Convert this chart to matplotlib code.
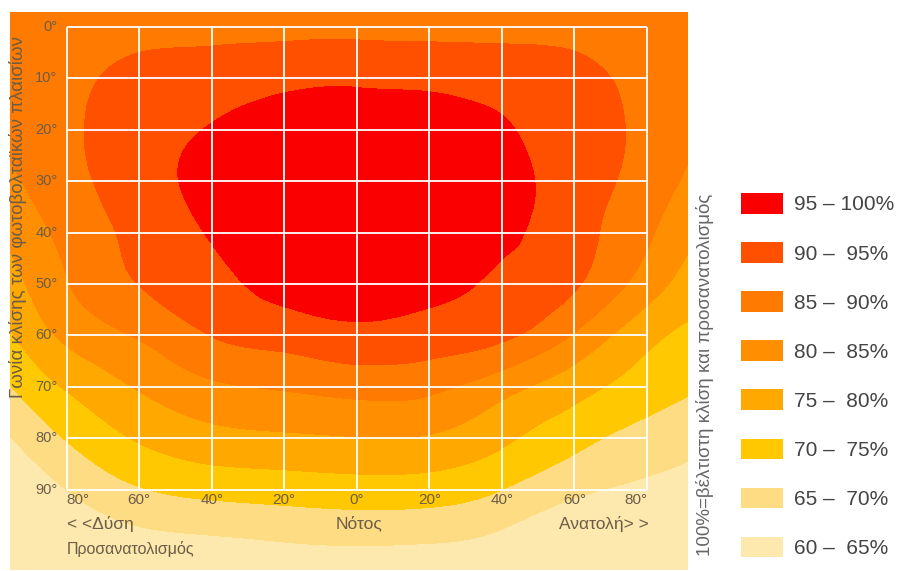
import numpy as np
import matplotlib
matplotlib.use('Agg')
import matplotlib.pyplot as plt
import matplotlib.tri as mtri
from matplotlib.patches import Patch

plt.rcParams['font.family'] = ['Liberation Sans', 'DejaVu Sans']

# azimuth (negative = west) and tilt of the panels, degrees
azimuth = [-100, -80, -60, -40, -20, 0, 20, 40, 60, 80, 100]
tilt = [-10, 0, 10, 20, 30, 40, 50, 60, 70, 80, 90, 100, 110]

# % of the optimum yield, one row per tilt
yield_pct = [
    [86.0, 86.0, 85.5, 85.0, 85.0, 85.0, 85.0, 85.0, 85.5, 86.0, 86.0],
    [87.0, 87.5, 88.5, 88.5, 88.5, 88.6, 88.5, 88.5, 88.3, 87.3, 86.5],
    [87.0, 88.8, 91.3, 92.5, 93.8, 94.2, 93.8, 93.0, 91.5, 88.5, 86.5],
    [85.0, 89.0, 92.8, 95.3, 97.0, 97.5, 97.3, 95.5, 92.5, 88.8, 84.0],
    [83.0, 88.2, 92.9, 96.5, 98.5, 99.5, 99.0, 96.8, 92.5, 87.9, 81.0],
    [79.5, 86.4, 91.5, 95.4, 98.0, 99.3, 99.0, 96.2, 91.9, 85.8, 77.5],
    [76.0, 84.7, 90.1, 93.5, 96.5, 97.5, 96.5, 94.2, 90.6, 82.5, 75.0],
    [72.0, 81.1, 85.5, 90.1, 92.1, 93.6, 92.8, 91.0, 84.5, 76.5, 72.5],
    [68.0, 75.5, 80.4, 84.1, 85.5, 86.8, 86.2, 82.0, 77.0, 72.5, 69.5],
    [63.0, 70.3, 75.5, 78.3, 79.2, 79.8, 79.5, 76.0, 71.6, 68.0, 65.5],
    [58.5, 65.0, 69.6, 71.5, 72.2, 72.8, 72.5, 70.0, 66.0, 64.0, 62.0],
    [54.0, 60.0, 63.2, 64.2, 65.1, 65.6, 65.3, 63.5, 60.0, 59.5, 57.5],
    [50.0, 55.0, 57.5, 58.0, 58.5, 59.0, 58.5, 57.0, 54.5, 55.0, 53.0],
]

levels = [0, 65, 70, 75, 80, 85, 90, 95, 101]
band_colors = ['#fde9ad', '#fddc84', '#ffc800', '#ffa800',
               '#ff8f00', '#ff7a00', '#ff5000', '#fa0000']
band_labels = ['60 –  65%', '65 –  70%', '70 –  75%', '75 –  80%',
               '80 –  85%', '85 –  90%', '90 –  95%', '95 – 100%']

x_ticks = [-80, -60, -40, -20, 0, 20, 40, 60, 80]
x_tick_labels = ['80°', '60°', '40°', '20°', '0°', '20°', '40°', '60°', '80°']
y_ticks = [0, 10, 20, 30, 40, 50, 60, 70, 80, 90]

fig = plt.figure(figsize=(8.98, 5.71), dpi=100)
ax = fig.add_axes([10 / 898, 1 / 571, 678 / 898, 558 / 571])

A, T = np.meshgrid(azimuth, tilt)
tri = mtri.Triangulation(A.ravel(), T.ravel())
refiner = mtri.UniformTriRefiner(tri)
tri_f, z_f = refiner.refine_field(np.array(yield_pct).ravel(), subdiv=4)
ax.tricontourf(tri_f, z_f, levels=levels, colors=band_colors)

# white grid only inside the chart box
ax.vlines(x_ticks, y_ticks[0], y_ticks[-1], color='white', lw=1.3)
ax.hlines(y_ticks, x_ticks[0], x_ticks[-1], color='white', lw=1.3)

ax.set_xlim(-95.6, 91.3)
ax.set_ylim(105.6, -2.9)
ax.axis('off')

lab_col = '#6b5d48'
for t in y_ticks:
    ax.text(-82.5, t, f'{t}°', ha='right', va='center', fontsize=10.5, color=lab_col)
for i, (x, s) in enumerate(zip(x_ticks, x_tick_labels)):
    ha = 'left' if i == 0 else ('right' if i == len(x_ticks) - 1 else 'center')
    ax.text(x, 92.0, s, ha=ha, va='center', fontsize=11, color=lab_col)

ax.text(-80, 96.6, '< <Δύση', ha='left', va='center', fontsize=12.5, color=lab_col)
ax.text(0.5, 96.6, 'Νότος', ha='center', va='center', fontsize=12.5, color=lab_col)
ax.text(80.5, 96.6, 'Ανατολή> >', ha='right', va='center', fontsize=12.5, color=lab_col)
ax.text(-80, 101.5, 'Προσανατολισμός', ha='left', va='center', fontsize=11.5, color=lab_col)

ax.text(-93.3, 37, 'Γωνία κλίσης των φωτοβολταϊκών πλαισίων', rotation=90,
        ha='center', va='center', fontsize=13.5, color=lab_col)

fig.text(705 / 898, 1 - 375 / 571, '100%=βέλτιστη κλίση και προσανατολισμός',
         rotation=90, ha='center', va='center', fontsize=13.5, color='#666666')

handles = [Patch(facecolor=c, edgecolor='none') for c in band_colors[::-1]]
fig.legend(handles, band_labels[::-1], loc='upper left',
           bbox_to_anchor=(741 / 898, 1 - 193 / 571), frameon=False,
           fontsize=15, handlelength=2.0, handleheight=1.15,
           handletextpad=0.55, labelspacing=1.33, borderpad=0,
           borderaxespad=0, labelcolor='#444444')

fig.savefig('out.png', dpi=100)
